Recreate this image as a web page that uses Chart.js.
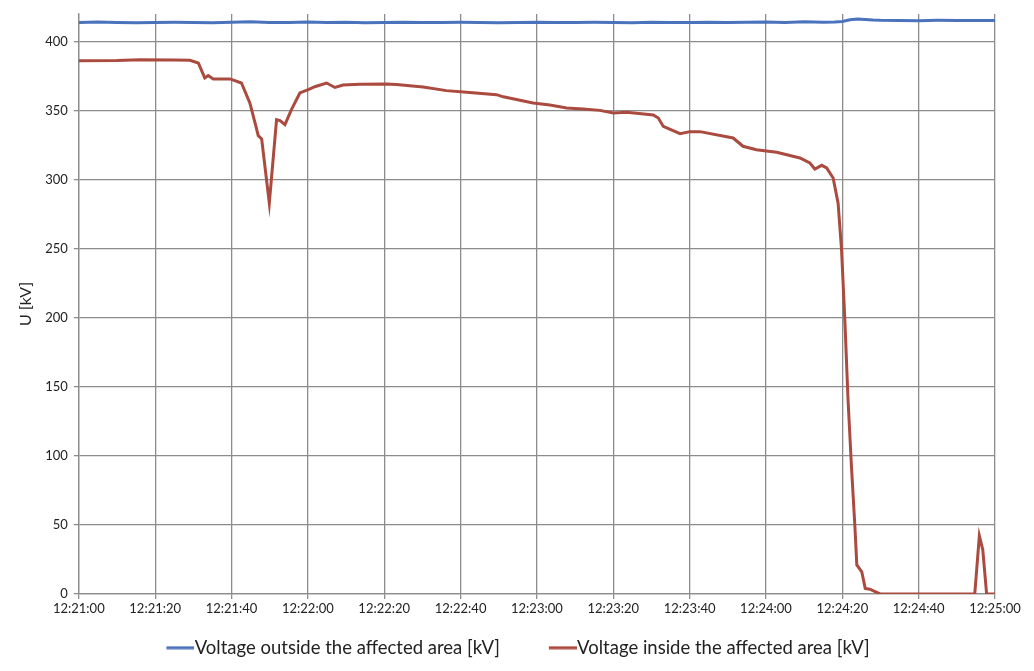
<!DOCTYPE html>
<html>
<head>
<meta charset="utf-8">
<script src="https://cdn.jsdelivr.net/npm/chart.js@4/dist/chart.umd.min.js"></script>
<style>
html,body{margin:0;padding:0;background:#fff;}
#wrap{width:1034px;height:671px;position:relative;}
</style>
</head>
<body>
<div id="wrap"><canvas id="c"></canvas></div>
<script>
// time in seconds after 12:21:00
const outsideTimes = [0,5,10,15,20,25,30,35,40,45,50,55,60,65,70,75,80,85,90,95,100,105,110,115,120,125,130,135,140,145,150,155,160,165,170,175,180,185,190,195,198,200,202,204,206,208,210,215,220,225,230,235,240];
const outsideValues = [413.9,414.2,413.8,413.7,413.9,414.0,413.8,413.7,414.1,414.3,413.9,413.8,414.2,413.9,414.0,413.7,413.9,414.1,413.8,413.9,414.0,413.8,413.7,413.9,414.1,413.8,413.9,414.0,413.8,413.7,414.0,413.9,413.8,414.1,413.8,414.0,414.2,413.9,414.3,414.1,414.2,414.6,415.8,416.3,416.1,415.6,415.4,415.3,415.2,415.4,415.3,415.3,415.3];

const insideTimes = [0,10,16,25,29.1,31.3,33,33.9,35.2,39.6,42.6,44.8,46.5,47,47.9,49.9,51.8,52.7,54,55.7,57.9,60.1,62,64.9,67.1,69.2,73.6,80.6,83.2,90.2,96.3,101.6,109.4,111.2,119,123.4,127.8,132.1,136.5,140,143.5,150.5,151.8,153.1,157.5,160.1,162.7,171.4,174,177.5,182.8,188.9,191.5,192.8,194.6,195.9,197.6,198.9,199.8,200.7,201.5,202.4,203.3,203.8,205.1,206,207.2,209.9,234.7,235.9,236.8,237.8,240];
const insideValues = [386.2,386.3,386.8,386.6,386.5,384.5,373.7,375.4,373,373,370,355.6,337.5,331.9,329.5,283,343.5,342.8,339.9,350.7,362.8,365.2,367.5,370,366.8,368.6,369.2,369.3,369,367.2,364.5,363.3,361.6,360,355.6,354.1,352,351.2,350.2,348.3,348.8,346.9,344.7,338.6,333.3,334.8,334.8,330.2,324.2,321.7,319.8,315.7,312.1,307.7,310.4,308.5,301.2,283,249.3,196.2,140.6,92.3,48.8,21,16,4,3.4,0,0,42,31.9,0,0];

const seriesNames = ['Voltage outside the affected area [kV]','Voltage inside the affected area [kV]'];
const yTitle = 'U [kV]';
const colors = ['#4a72bd', '#ab4a3e'];

function toPts(ts, vs){ return ts.map((t,i)=>({x:t,y:vs[i]})); }
function fmt(s){
  const total = 12*3600 + 21*60 + s;
  const h = Math.floor(total/3600), m = Math.floor((total%3600)/60), sec = Math.round(total%60);
  return h + ':' + String(m).padStart(2,'0') + ':' + String(sec).padStart(2,'0');
}
// legend swatch: a short line placed right next to the text
function swatch(color){
  const c = document.createElement('canvas');
  c.width = 66; c.height = 4;
  const g = c.getContext('2d');
  g.fillStyle = color;
  g.fillRect(38, 0.5, 28, 3);
  return c;
}

const gridColor = '#8c8c8c';
new Chart(document.getElementById('c'), {
  type: 'line',
  data: {
    datasets: [
      {label: seriesNames[0], data: toPts(outsideTimes, outsideValues), borderColor:colors[0], backgroundColor:colors[0], borderWidth:3, pointRadius:0, pointStyle: swatch(colors[0]), tension:0},
      {label: seriesNames[1], data: toPts(insideTimes, insideValues), borderColor:colors[1], backgroundColor:colors[1], borderWidth:3, pointRadius:0, pointStyle: swatch(colors[1]), tension:0}
    ]
  },
  options: {
    responsive: true,
    maintainAspectRatio: false,
    animation: false,
    layout: {padding: {left: 12, right: 39, top: 14, bottom: 4}},
    scales: {
      x: {
        type: 'linear', min: 0, max: 240,
        ticks: {stepSize: 20, callback: v => fmt(v), color:'#222', font:{family:'Lato', size:13}, maxRotation:0, padding:2},
        grid: {color: gridColor, lineWidth: 1.3, tickLength: 5},
        border: {color: gridColor, width: 1.3}
      },
      y: {
        min: 0, max: 420,
        ticks: {stepSize: 50, includeBounds: false, color:'#222', font:{family:'Lato', size:13}, padding:6},
        grid: {color: gridColor, lineWidth: 1.3, tickLength: 5},
        border: {color: gridColor, width: 1.3},
        title: {display: true, text: yTitle, color:'#222', font:{family:'Lato', size:16}}
      }
    },
    plugins: {
      legend: {
        position: 'bottom',
        labels: {usePointStyle: true, pointStyleWidth: 48, boxWidth: 48, padding: 20, color:'#222', font:{family:'Lato', size:18.5}}
      },
      tooltip: {enabled: false}
    }
  }
});
</script>
</body>
</html>
